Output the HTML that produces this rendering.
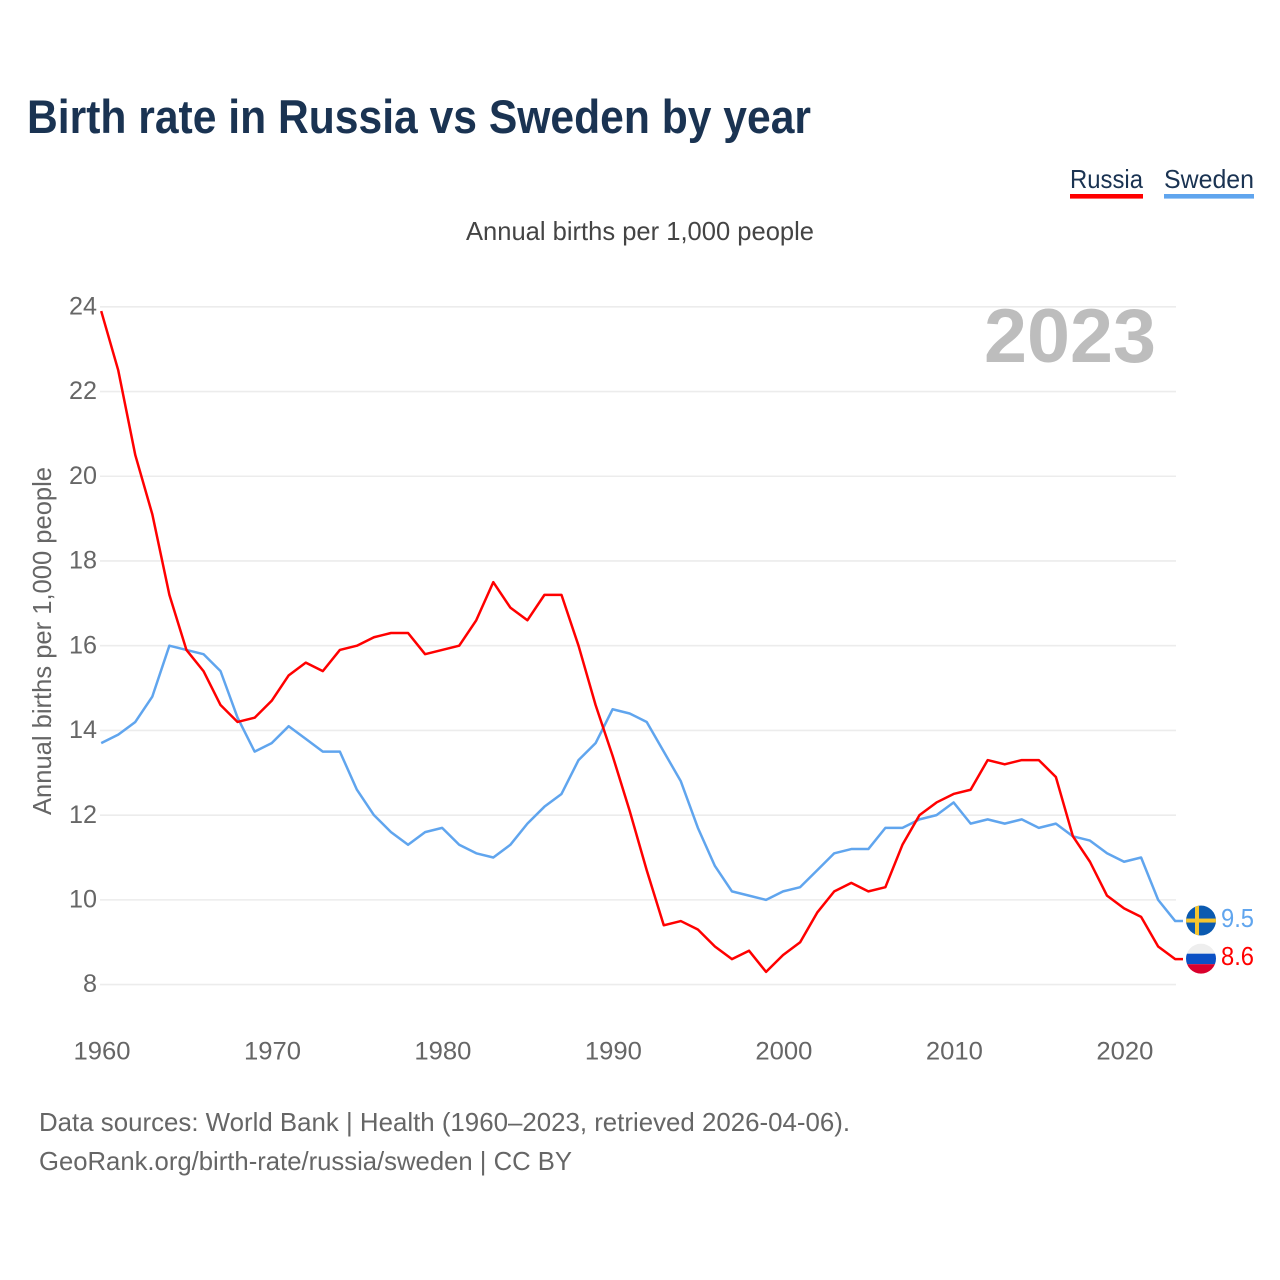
<!DOCTYPE html>
<html lang="en">
<head>
<meta charset="utf-8">
<title>Birth rate in Russia vs Sweden by year</title>
<style>
html,body{margin:0;padding:0;background:#fff;width:1280px;height:1280px;overflow:hidden}
svg{display:block}
text{font-family:"Liberation Sans",sans-serif}
</style>
</head>
<body>
<svg id="chart" xmlns="http://www.w3.org/2000/svg" width="1280" height="1280" viewBox="0 0 1280 1280">
  <rect x="0" y="0" width="1280" height="1280" fill="#fff"/>
  <text x="27" y="133" font-size="47" font-weight="700" fill="#1a3352" textLength="784" lengthAdjust="spacingAndGlyphs">Birth rate in Russia vs Sweden by year</text>
  <g>
    <text x="1070" y="188" font-size="26" fill="#1a3352" textLength="73" lengthAdjust="spacingAndGlyphs">Russia</text>
    <rect x="1070" y="194" width="73" height="4.6" fill="#ff0000"/>
  </g>
  <g>
    <text x="1164" y="188" font-size="26" fill="#1a3352" textLength="90" lengthAdjust="spacingAndGlyphs">Sweden</text>
    <rect x="1164" y="194" width="90" height="4.6" fill="#60a5ee"/>
  </g>
  <text x="466" y="240" font-size="26" fill="#444" textLength="348" lengthAdjust="spacingAndGlyphs">Annual births per 1,000 people</text>
  <text transform="translate(51,815) rotate(-90)" x="0" y="0" font-size="26" fill="#666" textLength="348" lengthAdjust="spacingAndGlyphs">Annual births per 1,000 people</text>
  <g id="grid"></g>
  <g id="yticks"></g>
  <g id="xticks"></g>
  <text x="984" y="362" font-size="76" font-weight="700" fill="#bdbdbd" textLength="172" lengthAdjust="spacingAndGlyphs">2023</text>
  <g id="lines"></g>
  <g id="ends"></g>
  <text x="39" y="1131" font-size="26" fill="#666" textLength="811" lengthAdjust="spacingAndGlyphs">Data sources: World Bank | Health (1960–2023, retrieved 2026-04-06).</text>
  <text x="39" y="1170" font-size="26" fill="#666" textLength="533" lengthAdjust="spacingAndGlyphs">GeoRank.org/birth-rate/russia/sweden | CC BY</text>
</svg>
<script>
var startYear = 1960;
var russiaValues = [23.9,22.5,20.5,19.1,17.2,15.9,15.4,14.6,14.2,14.3,14.7,15.3,15.6,15.4,15.9,16.0,16.2,16.3,16.3,15.8,15.9,16.0,16.6,17.5,16.9,16.6,17.2,17.2,16.0,14.6,13.4,12.1,10.7,9.4,9.5,9.3,8.9,8.6,8.8,8.3,8.7,9.0,9.7,10.2,10.4,10.2,10.3,11.3,12.0,12.3,12.5,12.6,13.3,13.2,13.3,13.3,12.9,11.5,10.9,10.1,9.8,9.6,8.9,8.6];
var swedenValues = [13.7,13.9,14.2,14.8,16.0,15.9,15.8,15.4,14.3,13.5,13.7,14.1,13.8,13.5,13.5,12.6,12.0,11.6,11.3,11.6,11.7,11.3,11.1,11.0,11.3,11.8,12.2,12.5,13.3,13.7,14.5,14.4,14.2,13.5,12.8,11.7,10.8,10.2,10.1,10.0,10.2,10.3,10.7,11.1,11.2,11.2,11.7,11.7,11.9,12.0,12.3,11.8,11.9,11.8,11.9,11.7,11.8,11.5,11.4,11.1,10.9,11.0,10.0,9.5];
var yTickValues = [8,10,12,14,16,18,20,22,24];
var xTickYears = [1960,1970,1980,1990,2000,2010,2020];

var NS = 'http://www.w3.org/2000/svg';
function xScale(year){ return 101.2 + (year - 1960) * (1175.2 - 101.2) / 63; }
function yScale(v){ return 984.6 - (v - 8) * (984.6 - 306.8) / 16; }
function mk(tag, parent, attrs, txt){
  var el = document.createElementNS(NS, tag);
  for (var k in attrs) el.setAttribute(k, attrs[k]);
  if (txt !== undefined) el.textContent = txt;
  parent.appendChild(el);
  return el;
}
var grid = document.getElementById('grid');
var yticks = document.getElementById('yticks');
var xticks = document.getElementById('xticks');
var lines = document.getElementById('lines');
var ends = document.getElementById('ends');

yTickValues.forEach(function(v){
  var ln = mk('line', grid, {x1:100, x2:1176, y1:yScale(v), y2:yScale(v), stroke:'#ececec', 'stroke-width':1.6});
  
  
  var w = String(v).length * 14;
  var t = mk('text', yticks, {x:97 - w, y:yScale(v) + 7.6, 'font-size':25, fill:'#666', textLength:w, lengthAdjust:'spacingAndGlyphs'}, String(v));
  
  
});
xTickYears.forEach(function(y){
  var t = mk('text', xticks, {x:xScale(y) - 27.7, y:1059.5, 'font-size':25, fill:'#666', textLength:57, lengthAdjust:'spacingAndGlyphs'}, String(y));
  
  
});
function linePoints(values){
  var pts = values.map(function(v, i){ return xScale(startYear + i).toFixed(2) + ',' + yScale(v).toFixed(2); });
  pts.push('1183,' + yScale(values[values.length - 1]).toFixed(2));
  return pts.join(' ');
}
var swedenLine = mk('polyline', lines, {points:linePoints(swedenValues), fill:'none', stroke:'#60a5ee', 'stroke-width':2.5, 'stroke-linejoin':'round'});


var russiaLine = mk('polyline', lines, {points:linePoints(russiaValues), fill:'none', stroke:'#ff0000', 'stroke-width':2.5, 'stroke-linejoin':'round'});



var swe = swedenValues[swedenValues.length - 1];
var rus = russiaValues[russiaValues.length - 1];
var sy = yScale(swe) - 0.5, ry = yScale(rus) - 0.5, fx = 1201, r = 15;

var defs = mk('defs', ends, {});
var c1 = mk('clipPath', defs, {id:'clip-se'});
mk('circle', c1, {cx:fx, cy:sy, r:r});
var c2 = mk('clipPath', defs, {id:'clip-ru'});
mk('circle', c2, {cx:fx, cy:ry, r:r});

var seFlag = mk('g', ends, {'clip-path':'url(#clip-se)'});


mk('rect', seFlag, {x:fx - r, y:sy - r, width:2 * r, height:2 * r, fill:'#0b5ab0'});
mk('rect', seFlag, {x:fx - r, y:sy - 2, width:2 * r, height:4, fill:'#f5c52e'});
mk('rect', seFlag, {x:fx - 6, y:sy - r, width:4, height:2 * r, fill:'#f5c52e'});

var ruFlag = mk('g', ends, {'clip-path':'url(#clip-ru)'});


mk('rect', ruFlag, {x:fx - r, y:ry - r, width:2 * r, height:10, fill:'#eeeeee'});
mk('rect', ruFlag, {x:fx - r, y:ry - 5, width:2 * r, height:10.5, fill:'#0b50c4'});
mk('rect', ruFlag, {x:fx - r, y:ry + 5.5, width:2 * r, height:10, fill:'#d9002c'});

var sLab = mk('text', ends, {x:1221, y:sy + 6.5, 'font-size':26, fill:'#60a5ee', textLength:33, lengthAdjust:'spacingAndGlyphs'}, swe.toFixed(1));


var rLab = mk('text', ends, {x:1221, y:ry + 6.5, 'font-size':26, fill:'#ff0000', textLength:33, lengthAdjust:'spacingAndGlyphs'}, rus.toFixed(1));


</script>
</body>
</html>
